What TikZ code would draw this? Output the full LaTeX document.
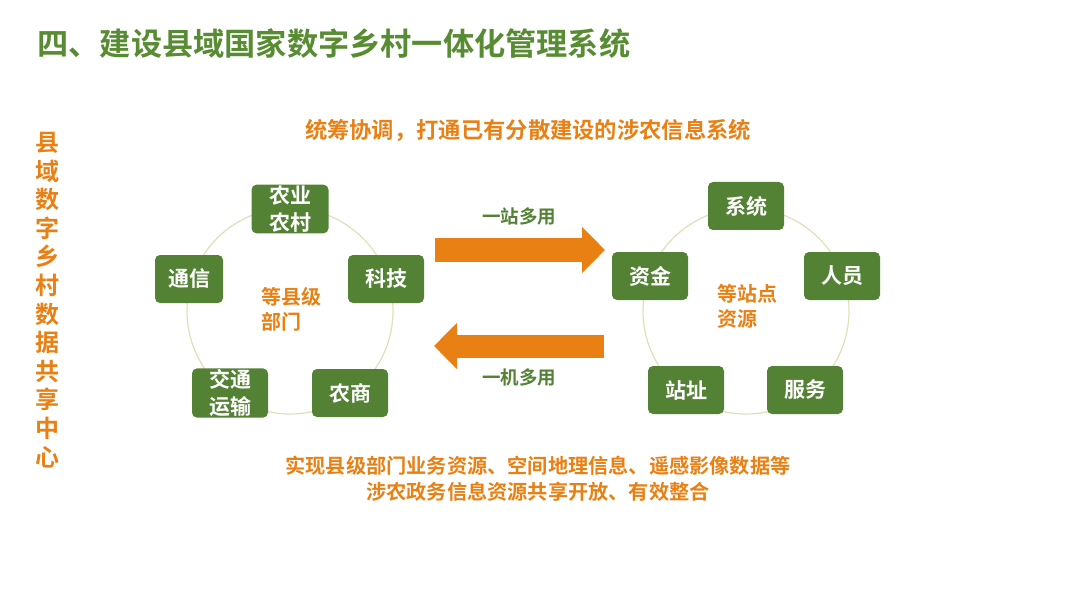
\documentclass[tikz,border=0pt]{standalone}
\usepackage{fontspec}
\setmainfont{Noto Sans CJK SC}[BoldFont={Noto Sans CJK SC Bold}]
\usepackage{tikz}
\usetikzlibrary{arrows.meta}
\definecolor{boxgreen}{RGB}{84,130,53}
\definecolor{titlegreen}{RGB}{88,140,50}
\definecolor{hint}{RGB}{232,128,20}
\definecolor{ring}{RGB}{226,222,185}

\begin{document}
\begin{tikzpicture}[x=1pt, y=-1pt, every node/.style={font=\bfseries},
	box/.style={fill=boxgreen, rounded corners=5pt, minimum width=76pt, minimum height=48pt, inner sep=1pt, text=white, align=center, font=\bfseries\fontsize{21}{27}\selectfont},
	mid/.style={text=hint, align=left, font=\bfseries\fontsize{20}{25}\selectfont},
	flow/.style={draw=hint, line width=23pt, -{Triangle[length=23pt, width=45pt]}},
	tag/.style={text=boxgreen, font=\bfseries\fontsize{18.5}{20}\selectfont}]
	\useasboundingbox (0,0) rectangle (1080,607);
	% title and side column
	\node[text=titlegreen, anchor=west, font=\bfseries\fontsize{31.2}{34}\selectfont] (title) at (34,44) {四、建设县域国家数字乡村一体化管理系统};
	\node[text=hint, align=center, font=\bfseries\fontsize{24}{28.6}\selectfont] (side) at (47,300) {县\\域\\数\\字\\乡\\村\\数\\据\\共\\享\\中\\心};
	\node[text=hint, font=\bfseries\fontsize{22.3}{24}\selectfont] (top) at (528,130) {统筹协调，打通已有分散建设的涉农信息系统};
	% left group
	\draw[ring, line width=1.2pt] (290,311) circle (103);
	\node[box, minimum width=77pt] (nyy) at (290,209) {农业\\农村};
	\node[box, minimum width=68pt] (tx) at (189,279) {通信};
	\node[box] (kj) at (386,279) {科技};
	\node[box] (jt) at (230,393) {交通\\运输};
	\node[box] (ns) at (350,393) {农商};
	\node[mid] (dept) at (291,309) {等县级\\部门};
	% right group
	\draw[ring, line width=1.2pt] (746,311) circle (103);
	\node[box] (xt) at (746,206) {系统};
	\node[box] (zj) at (650,276) {资金};
	\node[box] (ry) at (842,276) {人员};
	\node[box] (zz) at (686,390) {站址};
	\node[box] (fw) at (805,390) {服务};
	\node[mid] (site) at (747,306) {等站点\\资源};
	% arrows between the groups
	\coordinate (a1) at (435,250);
	\coordinate (b1) at (605,250);
	\coordinate (a2) at (604,346);
	\coordinate (b2) at (434,346);
	\draw[flow] (a1) -- (b1);
	\draw[flow] (a2) -- (b2);
	\node[tag] (one) at (519,216) {一站多用};
	\node[tag] (multi) at (519,377) {一机多用};
	% bottom note
	\node[text=hint, align=center, font=\bfseries\fontsize{20.2}{26}\selectfont] (note) at (538,479) {实现县级部门业务资源、空间地理信息、遥感影像数据等\\涉农政务信息资源共享开放、有效整合};
\end{tikzpicture}
\end{document}
